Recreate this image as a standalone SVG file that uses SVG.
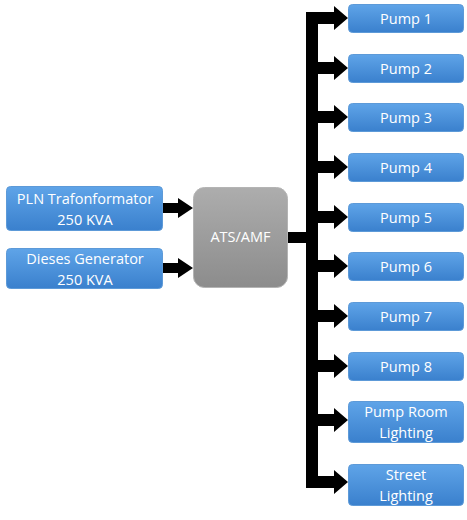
<svg xmlns="http://www.w3.org/2000/svg" width="467" height="520" viewBox="0 0 467 520">
<defs>
<linearGradient id="blue" x1="0" y1="0" x2="0" y2="1">
<stop offset="0" stop-color="#5fa4e8"/>
<stop offset="1" stop-color="#3a80cd"/>
</linearGradient>
<linearGradient id="gray" x1="0" y1="0" x2="0" y2="1">
<stop offset="0" stop-color="#adadad"/>
<stop offset="1" stop-color="#8c8c8c"/>
</linearGradient>
<style>
.b{fill:url(#blue);stroke:#5d9ad8;stroke-width:1}
.g{fill:url(#gray);stroke:#b4b4b4;stroke-width:1}
.t{font-family:"Open Sans","Liberation Sans",sans-serif;font-size:14.5px;fill:#ffffff;text-anchor:middle}
.c{fill:#000000}
</style>
</defs>
<rect width="467" height="520" fill="#ffffff"/>
<g id="connectors">
<path class="c" d="M163,203H178V198L193,208L178,218V213H163Z"/>
<path class="c" d="M163,263H178V258L193,268L178,278V273H163Z"/>
<rect class="c" x="288" y="232" width="20" height="11"/>
<rect class="c" x="306" y="12" width="12" height="476"/>
<path class="c" d="M306,12H334V6L348,18L334,30V24H306Z"/>
<path class="c" d="M318,62H334V56L348,68L334,80V74H318Z"/>
<path class="c" d="M318,111H334V105L348,117L334,129V123H318Z"/>
<path class="c" d="M318,161H334V155L348,167L334,179V173H318Z"/>
<path class="c" d="M318,211H334V205L348,217L334,229V223H318Z"/>
<path class="c" d="M318,260H334V254L348,266L334,278V272H318Z"/>
<path class="c" d="M318,310H334V304L348,316L334,328V322H318Z"/>
<path class="c" d="M318,360H334V354L348,366L334,378V372H318Z"/>
<path class="c" d="M318,414H334V408L348,420L334,432V426H318Z"/>
<path class="c" d="M306,476H334V470L348,482L334,494V488H306Z"/>
</g>
<g id="pln"><rect class="b" x="6.5" y="186.5" width="156" height="44" rx="4"/><text class="t" x="85" y="204">PLN Trafonformator</text><text class="t" x="85" y="225">250 KVA</text></g>
<g id="dieses"><rect class="b" x="6.5" y="248.5" width="156" height="40" rx="4"/><text class="t" x="85" y="264">Dieses Generator</text><text class="t" x="85" y="285">250 KVA</text></g>
<g id="ats"><rect class="g" x="193.5" y="187.5" width="94" height="100" rx="11"/><text class="t" x="240.5" y="242">ATS/AMF</text></g>
<g id="pump1"><rect class="b" x="348.5" y="4.5" width="115" height="28" rx="4"/><text class="t" x="406" y="23.5">Pump 1</text></g>
<g id="pump2"><rect class="b" x="348.5" y="54.5" width="115" height="28" rx="4"/><text class="t" x="406" y="73.5">Pump 2</text></g>
<g id="pump3"><rect class="b" x="348.5" y="103.5" width="115" height="28" rx="4"/><text class="t" x="406" y="122.5">Pump 3</text></g>
<g id="pump4"><rect class="b" x="348.5" y="153.5" width="115" height="28" rx="4"/><text class="t" x="406" y="172.5">Pump 4</text></g>
<g id="pump5"><rect class="b" x="348.5" y="203.5" width="115" height="28" rx="4"/><text class="t" x="406" y="222.5">Pump 5</text></g>
<g id="pump6"><rect class="b" x="348.5" y="252.5" width="115" height="28" rx="4"/><text class="t" x="406" y="271.5">Pump 6</text></g>
<g id="pump7"><rect class="b" x="348.5" y="302.5" width="115" height="28" rx="4"/><text class="t" x="406" y="321.5">Pump 7</text></g>
<g id="pump8"><rect class="b" x="348.5" y="352.5" width="115" height="28" rx="4"/><text class="t" x="406" y="371.5">Pump 8</text></g>
<g id="pumproom"><rect class="b" x="348.5" y="401.5" width="115" height="41" rx="4"/><text class="t" x="406" y="417">Pump Room</text><text class="t" x="406" y="438">Lighting</text></g>
<g id="street"><rect class="b" x="348.5" y="464.5" width="115" height="41" rx="4"/><text class="t" x="406" y="480">Street</text><text class="t" x="406" y="501">Lighting</text></g>
</svg>
